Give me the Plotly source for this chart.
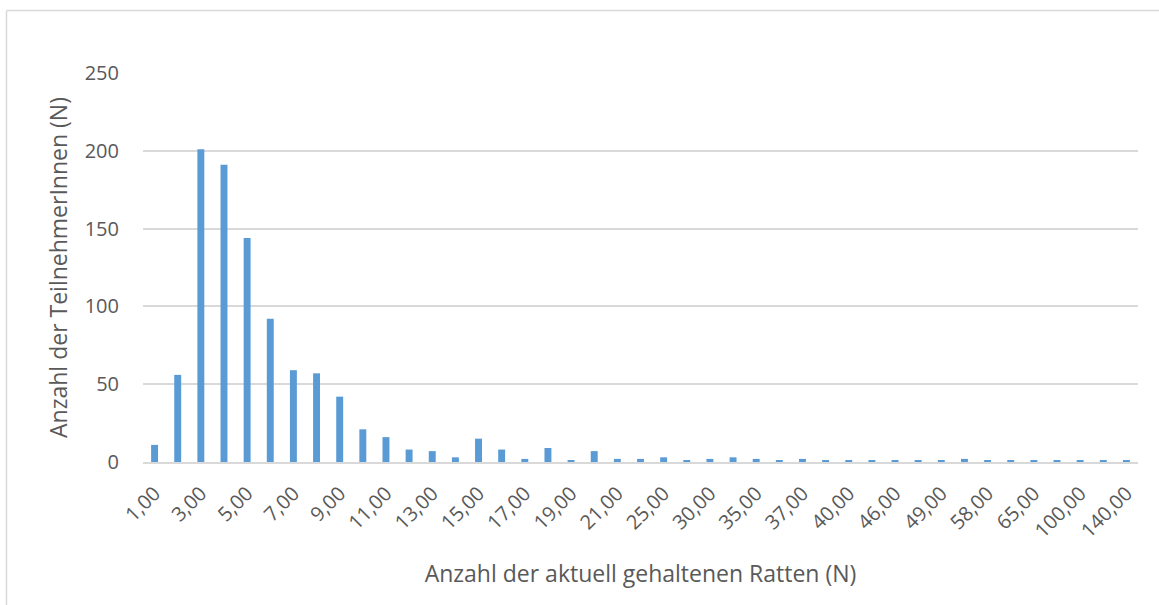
import plotly.graph_objects as go

categories = ["1,00", "2,00", "3,00", "4,00", "5,00", "6,00", "7,00", "8,00", "9,00", "10,00",
              "11,00", "12,00", "13,00", "14,00", "15,00", "16,00", "17,00", "18,00", "19,00", "20,00",
              "21,00", "22,00", "25,00", "28,00", "30,00", "32,00", "35,00", "36,00", "37,00", "38,00",
              "40,00", "45,00", "46,00", "48,00", "49,00", "50,00", "58,00", "60,00", "65,00", "70,00",
              "100,00", "120,00", "140,00"]
counts = [11, 56, 201, 191, 144, 92, 59, 57, 42, 21,
          16, 8, 7, 3, 15, 8, 2, 9, 1, 7,
          2, 2, 3, 1, 2, 3, 2, 1, 2, 1,
          1, 1, 1, 1, 1, 2, 1, 1, 1, 1,
          1, 1, 1]
tick_labels = categories[::2]
y_ticks = [0, 50, 100, 150, 200, 250]

text_color = "#595959"
grid_color = "#d9d9d9"
font_family = "Open Sans, Liberation Sans, sans-serif"

fig = go.Figure(go.Bar(x=categories, y=counts, marker_color="#5b9bd5", marker_line_width=0))

W, H = 1159, 605
l, r, t, b = 143, 21, 73, 143
pw, ph = W - l - r, H - t - b

def px_x(x):
    return (x - l) / pw

def px_y(y):
    return (H - b - y) / ph

border = dict(color=grid_color, width=1.5)
# chart-area border: only the top and left edges are inside the picture
fig.add_shape(type="line", xref="paper", yref="paper",
              x0=px_x(6.5), x1=px_x(1159), y0=px_y(10.5), y1=px_y(10.5), line=border, layer="below")
fig.add_shape(type="line", xref="paper", yref="paper",
              x0=px_x(6.5), x1=px_x(6.5), y0=px_y(10.5), y1=px_y(605), line=border, layer="below")

fig.update_layout(
    width=W, height=H,
    margin=dict(l=l, r=r, t=t, b=b),
    paper_bgcolor="white", plot_bgcolor="white",
    bargap=0.7,
    showlegend=False,
    font=dict(family=font_family, color=text_color, size=19),
    xaxis=dict(
        type="category",
        tickmode="array", tickvals=tick_labels, ticktext=tick_labels,
        tickangle=-45,
        tickfont=dict(size=20, color=text_color),
        showgrid=False,
        showline=True, linecolor=grid_color, linewidth=1.5,
        ticks="",
        ticklabelstandoff=10,
        title=dict(text="Anzahl der aktuell gehaltenen Ratten (N)", font=dict(size=23, color=text_color), standoff=24),
    ),
    yaxis=dict(
        range=[0, 250],
        tickmode="array", tickvals=y_ticks,
        tickfont=dict(size=20, color=text_color),
        showgrid=True, gridcolor=grid_color, gridwidth=1.5,
        zeroline=False,
        ticks="",
        ticklabelstandoff=23,
        title=dict(text="Anzahl der TeilnehmerInnen (N)", font=dict(size=23, color=text_color), standoff=10),
    ),
)

fig.write_html("out.html", config={"displayModeBar": False},
               post_script="document.body.style.margin='0';")
